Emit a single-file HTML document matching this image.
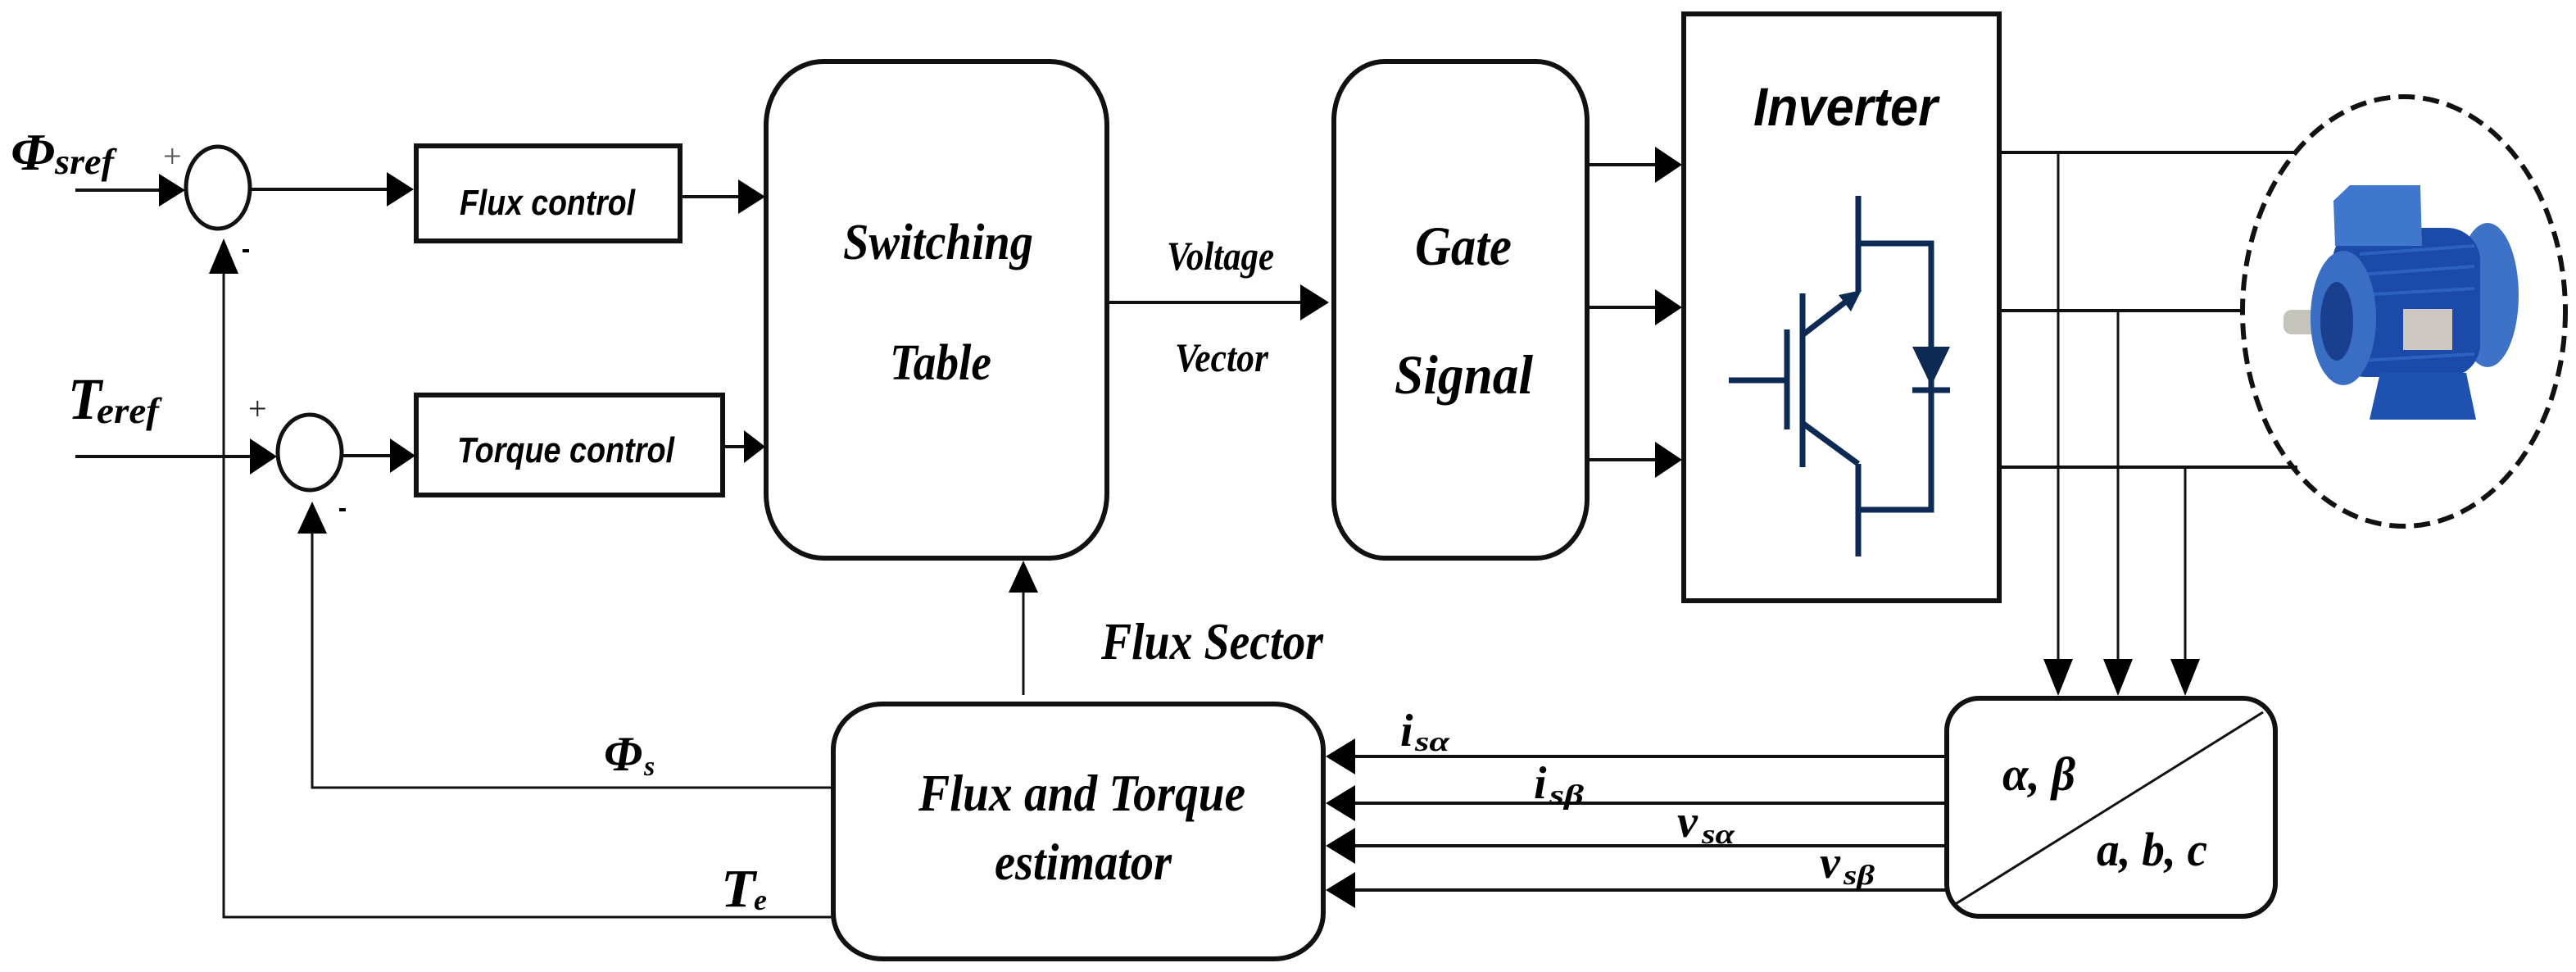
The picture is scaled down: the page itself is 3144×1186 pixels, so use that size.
<!DOCTYPE html>
<html><head><meta charset="utf-8"><style>
html,body{margin:0;padding:0;background:#fff;}
svg{display:block;}
.s{font-family:"Liberation Serif",serif;font-weight:bold;font-style:italic;fill:#000;}
.a{font-family:"Liberation Sans",sans-serif;font-weight:bold;font-style:italic;fill:#000;}
</style></head><body>
<svg width="3144" height="1186" viewBox="0 0 3144 1186" xmlns="http://www.w3.org/2000/svg">
<rect width="3144" height="1186" fill="#fff"/>
<g stroke="#111" fill="none">
<rect x="508" y="178" width="322" height="116" stroke-width="6"/>
<rect x="508" y="482" width="374" height="122" stroke-width="6"/>
<rect x="935" y="75" width="416" height="606" rx="70" ry="78" stroke-width="6"/>
<rect x="1628" y="75" width="309" height="606" rx="62" ry="72" stroke-width="6"/>
<rect x="2055" y="17" width="385" height="716" stroke-width="6"/>
<rect x="1017" y="859" width="598" height="311" rx="60" ry="56" stroke-width="6"/>
<rect x="2376" y="852" width="401" height="266" rx="40" ry="40" stroke-width="6"/>
<line x1="2385" y1="1104" x2="2762" y2="869" stroke-width="3"/>
<ellipse cx="266" cy="229" rx="39" ry="50" stroke-width="5"/>
<ellipse cx="378" cy="552" rx="39" ry="46" stroke-width="5"/>
<g stroke-width="4">
<line x1="92" y1="232" x2="200" y2="232"/>
<line x1="306" y1="231" x2="475" y2="231"/>
<line x1="831" y1="240" x2="905" y2="240"/>
<line x1="92" y1="557" x2="312" y2="557"/>
<line x1="418" y1="556" x2="480" y2="556"/>
<line x1="883" y1="545" x2="908" y2="545"/>
<line x1="1351" y1="369" x2="1590" y2="369"/>
<line x1="1937" y1="201" x2="2025" y2="201"/>
<line x1="1937" y1="375" x2="2025" y2="375"/>
<line x1="1937" y1="561" x2="2025" y2="561"/>
<line x1="2441" y1="186" x2="2800" y2="186"/>
<line x1="2441" y1="379" x2="2737" y2="379"/>
<line x1="2441" y1="570" x2="2804" y2="570"/>
<line x1="2377" y1="923" x2="1650" y2="923"/>
<line x1="2377" y1="980" x2="1650" y2="980"/>
<line x1="2377" y1="1032" x2="1650" y2="1032"/>
<line x1="2377" y1="1086" x2="1650" y2="1086"/>
</g>
<g stroke-width="3">
<polyline points="273,325 273,1119 1017,1119"/>
<polyline points="381,645 381,961 1017,961"/>
<line x1="1249" y1="848" x2="1249" y2="720"/>
<line x1="2512" y1="186" x2="2512" y2="810"/>
<line x1="2585" y1="379" x2="2585" y2="810"/>
<line x1="2667" y1="570" x2="2667" y2="810"/>
</g>
<ellipse cx="2934" cy="380" rx="197" ry="262" stroke-width="6" stroke-dasharray="20,10"/>
<g stroke="#0d2a55" stroke-width="7" stroke-linecap="butt">
<line x1="2110" y1="464" x2="2181" y2="464"/>
<line x1="2181" y1="402" x2="2181" y2="524"/>
<line x1="2200" y1="358" x2="2200" y2="570"/>
<line x1="2201" y1="408" x2="2258" y2="364"/>
<line x1="2201" y1="517" x2="2268" y2="566"/>
<line x1="2268" y1="239" x2="2268" y2="356"/>
<line x1="2268" y1="566" x2="2268" y2="679"/>
<polyline points="2268,297 2357,297 2357,622 2268,622"/>
<line x1="2334" y1="476" x2="2380" y2="476"/>
</g>
</g>
<g fill="#0d2a55">
<polygon points="2272,354 2244,360 2259,380"/>
<polygon points="2334,423 2380,423 2357,471"/>
</g>
<g fill="#000">
<polygon points="226,232 194,212 194,252"/>
<polygon points="505,231 472,210 472,252"/>
<polygon points="934,240 901,219 901,261"/>
<polygon points="338,557 305,535 305,579"/>
<polygon points="507,556 476,535 476,577"/>
<polygon points="934,545 908,525 908,565"/>
<polygon points="1622,369 1587,347 1587,391"/>
<polygon points="2053,201 2020,179 2020,223"/>
<polygon points="2053,375 2020,353 2020,397"/>
<polygon points="2053,561 2020,539 2020,583"/>
<polygon points="273,291 255,334 291,334"/>
<polygon points="381,612 363,651 399,651"/>
<polygon points="1249,684 1231,723 1267,723"/>
<polygon points="2512,849 2494,804 2530,804"/>
<polygon points="2585,849 2567,804 2603,804"/>
<polygon points="2667,849 2649,804 2685,804"/>
<polygon points="1618,923 1654,901 1654,945"/>
<polygon points="1618,980 1654,958 1654,1002"/>
<polygon points="1618,1032 1654,1010 1654,1054"/>
<polygon points="1618,1086 1654,1064 1654,1108"/>
</g>
<g>
<rect x="2787" y="378" width="48" height="30" rx="10" fill="#c4c4bc"/>
<ellipse cx="3036" cy="360" rx="38" ry="88" fill="#3d72c6"/>
<rect x="2847" y="278" width="180" height="182" rx="40" fill="#1b4aa8"/>
<g stroke="#2e62c0" stroke-width="4">
<line x1="2880" y1="310" x2="3020" y2="300"/><line x1="2880" y1="335" x2="3020" y2="325"/>
<line x1="2880" y1="360" x2="3020" y2="352"/><line x1="2880" y1="440" x2="3020" y2="432"/>
</g>
<polygon points="2848,245 2868,226 2954,226 2956,300 2850,300" fill="#3f77cc"/>
<ellipse cx="2860" cy="388" rx="40" ry="82" fill="#3a6ec4"/>
<ellipse cx="2852" cy="392" rx="20" ry="48" fill="#1a3f8e"/>
<polygon points="2905,455 3010,455 3022,512 2892,512" fill="#1f51b0"/>
<rect x="2933" y="377" width="60" height="50" fill="#cfc8c2"/>
</g>
<text class="a" x="561" y="262" font-size="44" textLength="214" lengthAdjust="spacingAndGlyphs">Flux control</text>
<text class="a" x="558" y="564" font-size="44" textLength="265" lengthAdjust="spacingAndGlyphs">Torque control</text>
<text class="a" x="2140" y="153" font-size="66" textLength="225" lengthAdjust="spacingAndGlyphs">Inverter</text>
<text class="s" x="1029" y="316" font-size="62" textLength="232" lengthAdjust="spacingAndGlyphs">Switching</text>
<text class="s" x="1086" y="463" font-size="62" textLength="124" lengthAdjust="spacingAndGlyphs">Table</text>
<text class="s" x="1424" y="329" font-size="50" textLength="131" lengthAdjust="spacingAndGlyphs">Voltage</text>
<text class="s" x="1434" y="453" font-size="50" textLength="114" lengthAdjust="spacingAndGlyphs">Vector</text>
<text class="s" x="1727" y="323" font-size="68" textLength="118" lengthAdjust="spacingAndGlyphs">Gate</text>
<text class="s" x="1702" y="480" font-size="68" textLength="169" lengthAdjust="spacingAndGlyphs">Signal</text>
<text class="s" x="1344" y="804" font-size="64" textLength="271" lengthAdjust="spacingAndGlyphs">Flux Sector</text>
<text class="s" x="1121" y="989" font-size="64" textLength="399" lengthAdjust="spacingAndGlyphs">Flux and Torque</text>
<text class="s" x="1214" y="1073" font-size="64" textLength="216" lengthAdjust="spacingAndGlyphs">estimator</text>
<text class="s" x="13" y="207" font-size="64" textLength="54" lengthAdjust="spacingAndGlyphs">Φ</text>
<text class="s" x="67" y="212" font-size="44" textLength="72" lengthAdjust="spacingAndGlyphs">sref</text>
<text class="s" x="83" y="511" font-size="72" textLength="41" lengthAdjust="spacingAndGlyphs">T</text>
<text class="s" x="118" y="516" font-size="44" textLength="76" lengthAdjust="spacingAndGlyphs">eref</text>
<text class="s" x="737" y="940" font-size="60" textLength="47" lengthAdjust="spacingAndGlyphs">Φ</text>
<text class="s" x="786" y="946" font-size="34">s</text>
<text class="s" x="880" y="1106" font-size="66" textLength="42" lengthAdjust="spacingAndGlyphs">T</text>
<text class="s" x="920" y="1110" font-size="36">e</text>
<text class="s" x="1709" y="910" font-size="56">i</text>
<text class="s" x="1727" y="916" font-size="34" textLength="42" lengthAdjust="spacingAndGlyphs">sα</text>
<text class="s" x="1872" y="974" font-size="56">i</text>
<text class="s" x="1891" y="981" font-size="34" textLength="42" lengthAdjust="spacingAndGlyphs">sβ</text>
<text class="s" x="2047" y="1021" font-size="56">v</text>
<text class="s" x="2077" y="1029" font-size="34" textLength="40" lengthAdjust="spacingAndGlyphs">sα</text>
<text class="s" x="2221" y="1071" font-size="56">v</text>
<text class="s" x="2250" y="1079" font-size="34" textLength="38" lengthAdjust="spacingAndGlyphs">sβ</text>
<text class="s" x="2444" y="964" font-size="58" textLength="89" lengthAdjust="spacingAndGlyphs">α, β</text>
<text class="s" x="2559" y="1056" font-size="58" textLength="135" lengthAdjust="spacingAndGlyphs">a, b, c</text>
<text x="199" y="204" font-family="Liberation Serif,serif" font-size="40" fill="#555">+</text>
<text x="303" y="512" font-family="Liberation Serif,serif" font-size="40" fill="#222">+</text>
<rect x="296" y="304" width="8" height="4" fill="#000"/>
<rect x="414" y="620" width="8" height="4" fill="#000"/>
</svg>
</body></html>
